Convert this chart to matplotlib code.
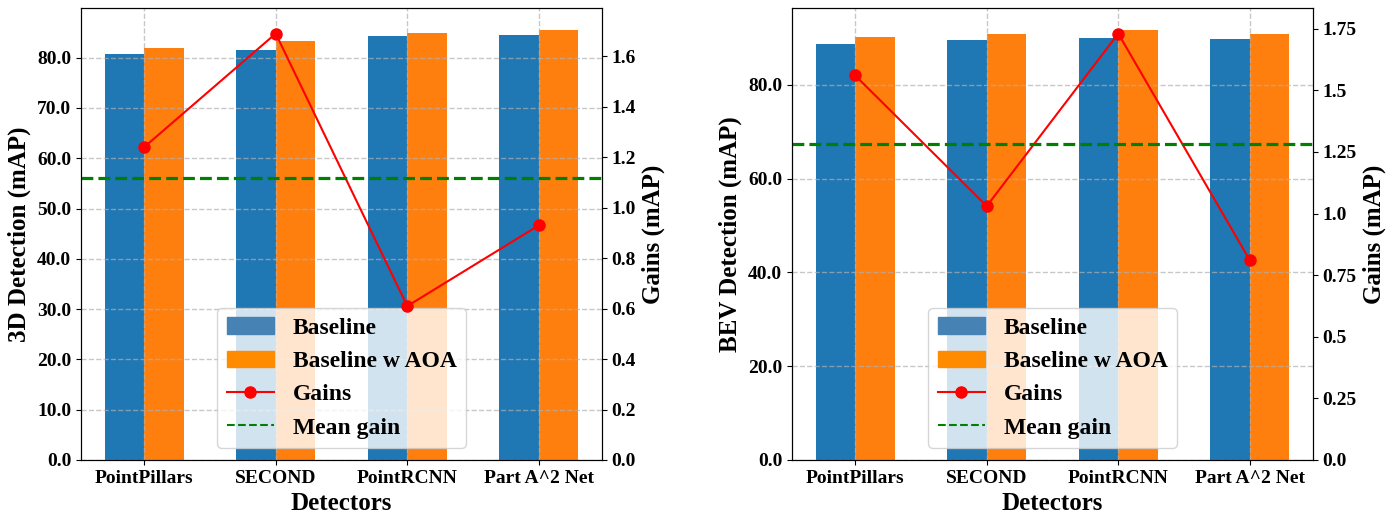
import matplotlib
matplotlib.use("Agg")
import matplotlib.pyplot as plt
import numpy as np
from matplotlib.patches import Patch
from matplotlib.lines import Line2D
from matplotlib.ticker import MultipleLocator, FuncFormatter

plt.rcParams['font.family'] = ['Liberation Serif', 'DejaVu Serif']
plt.rcParams['font.weight'] = 'bold'
plt.rcParams['axes.labelweight'] = 'bold'

detectors = ["PointPillars", "SECOND", "PointRCNN", "Part A^2 Net"]

# 3D detection (mAP)
det3d_baseline = [80.8, 81.6, 84.4, 84.6]
det3d_aoa = [82.0, 83.4, 85.0, 85.6]
det3d_gains = [1.24, 1.69, 0.61, 0.93]

# BEV detection (mAP)
bev_baseline = [88.8, 89.6, 90.0, 89.8]
bev_aoa = [90.3, 90.8, 91.8, 90.8]
bev_gains = [1.56, 1.03, 1.73, 0.81]

W, H = 1397, 517
fig = plt.figure(figsize=(W / 100, H / 100), dpi=100)

def fmt_right(x, pos):
    return str(round(x, 2))

def panel(rect, base, aoa, gains, ylabel, left_step, right_step):
    ax = fig.add_axes(rect)
    x = np.arange(len(detectors))
    w = 0.3
    ax.bar(x - w / 2, base, w, color='#1f77b4')
    ax.bar(x + w / 2, aoa, w, color='#ff7f0e')
    ax.set_xticks(x)
    ax.set_xticklabels(detectors, fontsize=14, fontweight='bold')
    ax.yaxis.set_major_locator(MultipleLocator(left_step))
    ax.yaxis.set_major_formatter(FuncFormatter(lambda v, p: "%.1f" % v))
    ax.tick_params(axis='y', labelsize=14)
    for lab in ax.get_yticklabels():
        lab.set_fontweight('bold')
    ax.set_xlabel("Detectors", fontsize=18, fontweight='bold')
    ax.set_ylabel(ylabel, fontsize=18, fontweight='bold')
    ax.grid(True, linestyle='--', color='#b0b0b0', linewidth=1.0, alpha=0.7)

    ax2 = ax.twinx()
    ax2.plot(x, gains, color='red', marker='o', markersize=8, linewidth=1.5)
    ax2.axhline(np.mean(gains), color='green', linestyle='--', linewidth=2.3)
    ax2.set_ylim(0, max(gains) * 1.06)
    ax2.yaxis.set_major_locator(MultipleLocator(right_step))
    ax2.yaxis.set_major_formatter(FuncFormatter(fmt_right))
    ax2.tick_params(axis='y', labelsize=14)
    for lab in ax2.get_yticklabels():
        lab.set_fontweight('bold')
    ax2.set_ylabel("Gains (mAP)", fontsize=18, fontweight='bold')

    handles = [
        Patch(facecolor='steelblue', edgecolor='steelblue'),
        Patch(facecolor='darkorange', edgecolor='darkorange'),
        Line2D([], [], color='red', marker='o', markersize=8, linewidth=1.5),
        Line2D([], [], color='green', linestyle='--', linewidth=1.5),
    ]
    labels = ["Baseline", "Baseline w AOA", "Gains", "Mean gain"]
    ax.legend(handles, labels, loc='lower center', prop={'size': 17, 'weight': 'bold'},
              framealpha=0.8)
    return ax, ax2

panel([81 / W, 57 / H, 521 / W, 452 / H], det3d_baseline, det3d_aoa, det3d_gains,
      "3D Detection (mAP)", 10, 0.2)
panel([792 / W, 57 / H, 521 / W, 452 / H], bev_baseline, bev_aoa, bev_gains,
      "BEV Detection (mAP)", 20, 0.25)

fig.savefig("out.png", dpi=100)
